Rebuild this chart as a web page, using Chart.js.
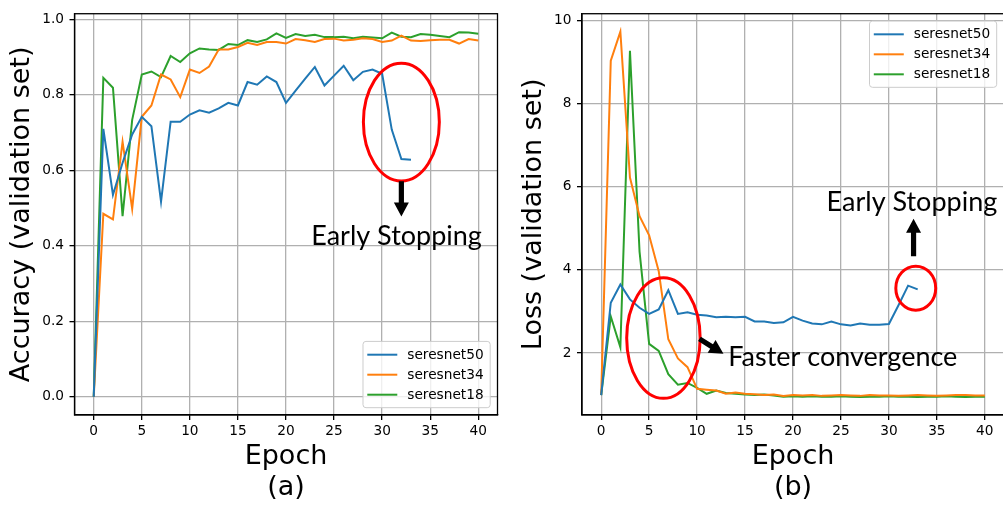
<!DOCTYPE html>
<html>
<head>
<meta charset="utf-8">
<script src="https://cdn.jsdelivr.net/npm/chart.js@4.4.1/dist/chart.umd.min.js"></script>
<style>
  html, body { margin: 0; padding: 0; background: #fff; overflow: hidden; }
  body { width: 1003px; height: 507px; position: relative; }
  canvas { position: absolute; top: 0; }
  #acc { left: 0; }
  #loss { left: 505px; }
</style>
</head>
<body>
<canvas id="acc" width="505" height="507"></canvas>
<canvas id="loss" width="499" height="507"></canvas>
<script>
// --- data ---
const epochs = [0,1,2,3,4,5,6,7,8,9,10,11,12,13,14,15,16,17,18,19,20,
                21,22,23,24,25,26,27,28,29,30,31,32,33,34,35,36,37,38,39,40];
const xTicks    = [0, 5, 10, 15, 20, 25, 30, 35, 40];
const accTicks  = [0.0, 0.2, 0.4, 0.6, 0.8, 1.0];
const lossTicks = [2, 4, 6, 8, 10];

const seriesNames  = ['seresnet50', 'seresnet34', 'seresnet18'];
const seriesColors = ['#1f77b4', '#ff7f0e', '#2ca02c'];

// accuracy (validation set) -- seresnet50 stops at epoch 33
const acc50 = [0, 0.710, 0.535, 0.620, 0.695, 0.742, 0.717, 0.517, 0.729, 0.729, 0.748,
               0.759, 0.753, 0.764, 0.779, 0.772, 0.834, 0.827, 0.849, 0.834, 0.779,
               0.811, 0.843, 0.874, 0.825, 0.851, 0.877, 0.839, 0.861, 0.867, 0.856,
               0.708, 0.630, 0.628];
const acc34 = [0, 0.485, 0.470, 0.676, 0.498, 0.742, 0.772, 0.854, 0.841, 0.794, 0.867,
               0.858, 0.875, 0.920, 0.920, 0.927, 0.938, 0.932, 0.940, 0.940, 0.936,
               0.948, 0.945, 0.940, 0.948, 0.949, 0.944, 0.946, 0.950, 0.948, 0.940,
               0.944, 0.957, 0.944, 0.943, 0.945, 0.946, 0.946, 0.936, 0.948, 0.944];
const acc18 = [0, 0.845, 0.819, 0.479, 0.734, 0.854, 0.862, 0.847, 0.903, 0.887, 0.910,
               0.923, 0.920, 0.919, 0.935, 0.932, 0.945, 0.940, 0.947, 0.963, 0.951,
               0.961, 0.956, 0.959, 0.953, 0.953, 0.954, 0.950, 0.954, 0.952, 0.950,
               0.965, 0.954, 0.953, 0.961, 0.959, 0.956, 0.953, 0.966, 0.965, 0.962];

// loss (validation set)
const loss50 = [0.99, 3.21, 3.65, 3.29, 3.09, 2.94, 3.05, 3.51, 2.94, 2.98, 2.92,
                2.90, 2.86, 2.87, 2.86, 2.87, 2.76, 2.76, 2.72, 2.74, 2.87,
                2.78, 2.71, 2.69, 2.76, 2.69, 2.66, 2.71, 2.68, 2.68, 2.70,
                3.15, 3.62, 3.53];
const loss34 = [0.99, 9.03, 9.73, 6.22, 5.29, 4.83, 3.97, 2.33, 1.87, 1.66, 1.14,
                1.12, 1.10, 1.02, 1.05, 1.02, 1.01, 0.99, 1.00, 0.97, 0.99,
                0.98, 0.99, 0.97, 0.98, 0.99, 0.98, 0.97, 0.99, 0.98, 0.98,
                0.97, 0.98, 0.99, 0.98, 0.97, 0.98, 0.99, 0.99, 0.98, 0.98];
const loss18 = [0.99, 2.88, 2.14, 9.27, 4.44, 2.22, 2.05, 1.49, 1.24, 1.28, 1.16,
                1.02, 1.10, 1.04, 1.02, 1.00, 0.99, 1.00, 0.98, 0.95, 0.96,
                0.95, 0.96, 0.95, 0.95, 0.96, 0.95, 0.94, 0.95, 0.95, 0.96,
                0.95, 0.95, 0.94, 0.95, 0.95, 0.96, 0.95, 0.94, 0.95, 0.95];

Chart.defaults.font.family = "'DejaVu Sans', sans-serif";
Chart.defaults.color = '#000';

// -------------------------------
// frame, legend box and the red notes
// -------------------------------
function drawArrow(ctx, x1, y1, x2, y2) {
    const ang = Math.atan2(y2 - y1, x2 - x1);
    const len = Math.hypot(x2 - x1, y2 - y1);
    const hl = 14, hw = 7.5, sw = 2.6;
    ctx.save();
    ctx.translate(x1, y1);
    ctx.rotate(ang);
    ctx.beginPath();
    ctx.moveTo(0, -sw);
    ctx.lineTo(len - hl, -sw);
    ctx.lineTo(len - hl, -hw);
    ctx.lineTo(len, 0);
    ctx.lineTo(len - hl, hw);
    ctx.lineTo(len - hl, sw);
    ctx.lineTo(0, sw);
    ctx.closePath();
    ctx.fillStyle = '#000';
    ctx.fill();
    ctx.restore();
}

const notesPlugin = {
    id: 'notes',
    afterDatasetsDraw(chart, args, opts) {
        const { ctx, chartArea: a, scales: { x, y } } = chart;
        ctx.save();

        // box round the plot
        ctx.strokeStyle = '#000';
        ctx.lineWidth = 1.3;
        ctx.strokeRect(a.left, a.top, a.right - a.left, a.bottom - a.top);

        // ellipses (centre + radii in data units)
        ctx.strokeStyle = '#ff0000';
        ctx.lineWidth = 3;
        (opts.ellipses || []).forEach(e => {
            const cx = x.getPixelForValue(e.x), cy = y.getPixelForValue(e.y);
            const rx = Math.abs(x.getPixelForValue(e.x + e.rx) - cx);
            const ry = Math.abs(y.getPixelForValue(e.y + e.ry) - cy);
            ctx.beginPath();
            ctx.ellipse(cx, cy, rx, ry, 0, 0, 2 * Math.PI);
            ctx.stroke();
        });

        (opts.arrows || []).forEach(r => {
            drawArrow(ctx, x.getPixelForValue(r.x1), y.getPixelForValue(r.y1),
                           x.getPixelForValue(r.x2), y.getPixelForValue(r.y2));
        });

        ctx.fillStyle = '#000';
        ctx.textBaseline = 'alphabetic';
        (opts.texts || []).forEach(t => {
            ctx.font = "27px Lato, 'Open Sans', sans-serif";
            ctx.textAlign = t.align;
            ctx.fillText(t.text, x.getPixelForValue(t.x), y.getPixelForValue(t.y));
        });

        // legend
        const sets = chart.data.datasets;
        ctx.font = "13.7px 'DejaVu Sans', sans-serif";
        const textW = Math.max(...sets.map(d => ctx.measureText(d.label).width));
        const w = 4.3 + 30 + 10 + textW + 6.6, h = 66.3;
        const bx = a.right - 7.3 - w;
        const by = opts.legendAt === 'top' ? a.top + 7.3 : a.bottom - 7.3 - h;
        ctx.beginPath();
        ctx.roundRect(bx, by, w, h, 3);
        ctx.fillStyle = 'rgba(255,255,255,0.8)';
        ctx.fill();
        ctx.strokeStyle = '#cccccc';
        ctx.lineWidth = 1;
        ctx.stroke();
        ctx.textAlign = 'left';
        ctx.textBaseline = 'middle';
        sets.forEach((d, i) => {
            const ly = by + 13.3 + i * 20;
            ctx.strokeStyle = d.borderColor;
            ctx.lineWidth = 2;
            ctx.beginPath();
            ctx.moveTo(bx + 4.3, ly);
            ctx.lineTo(bx + 34.3, ly);
            ctx.stroke();
            ctx.fillStyle = '#000';
            ctx.fillText(d.label, bx + 44.3, ly + 0.5);
        });
        ctx.restore();
    }
};

function makeChart(id, cfg) {
    const datasets = cfg.series.map((vals, i) => ({
        label: seriesNames[i],
        data: vals.map((v, k) => ({ x: epochs[k], y: v })),
        borderColor: seriesColors[i],
        borderWidth: 2,
        pointRadius: 0,
        tension: 0,
        fill: false
    }));
    const grid = { color: '#b0b0b0', lineWidth: 1.3, tickLength: 5, tickColor: '#000', tickWidth: 1.3 };
    const border = { color: '#000', width: 1.3 };
    return new Chart(document.getElementById(id), {
        type: 'line',
        data: { datasets },
        options: {
            responsive: false,
            animation: false,
            devicePixelRatio: 1,
            layout: { padding: { top: 2, right: cfg.padRight, bottom: 0, left: 0 } },
            plugins: {
                legend: { display: false },
                tooltip: { enabled: false },
                notes: cfg.notes
            },
            scales: {
                x: {
                    type: 'linear', min: -2, max: 42,
                    afterBuildTicks: s => { s.ticks = xTicks.map(v => ({ value: v })); },
                    afterFit: s => { s.height = 92; },
                    grid, border,
                    ticks: { font: { size: 13.7 }, padding: 3, maxRotation: 0, autoSkip: false },
                    title: { display: true, text: ['Epoch', cfg.tag],
                             font: { size: 27, lineHeight: 1.15 }, padding: { top: 0, bottom: 3.5 } }
                },
                y: {
                    min: cfg.yMin, max: cfg.yMax,
                    afterBuildTicks: s => { s.ticks = cfg.yTicks.map(v => ({ value: v })); },
                    afterFit: s => { s.width = cfg.yWidth; },
                    grid, border,
                    ticks: { font: { size: 13.7 }, padding: 5.5, autoSkip: false, callback: cfg.yFmt },
                    title: { display: true, text: cfg.yTitle,
                             font: { size: 27, lineHeight: 1.15 }, padding: { top: cfg.yTitlePad, bottom: 0 } }
                }
            }
        },
        plugins: [notesPlugin]
    });
}

// (a) accuracy
makeChart('acc', {
    series: [acc50, acc34, acc18],
    tag: '(a)',
    yTitle: 'Accuracy (validation set)',
    yMin: -0.048, yMax: 1.015, yTicks: accTicks,
    yFmt: v => v.toFixed(1),
    yWidth: 74.5, yTitlePad: 6.7, padRight: 7.5,
    notes: {
        legendAt: 'bottom',
        ellipses: [{ x: 32.0, y: 0.728, rx: 3.95, ry: 0.156 }],
        arrows: [{ x1: 32.0, y1: 0.571, x2: 32.0, y2: 0.478 }],
        texts: [{ text: 'Early Stopping', x: 31.5, y: 0.402, align: 'center' }]
    }
});

// (b) loss
makeChart('loss', {
    series: [loss50, loss34, loss18],
    tag: '(b)',
    yTitle: 'Loss (validation set)',
    yMin: 0.51, yMax: 10.16, yTicks: lossTicks,
    yFmt: v => String(v),
    yWidth: 77, yTitlePad: 13.4, padRight: 0,
    notes: {
        legendAt: 'top',
        ellipses: [{ x: 6.49, y: 2.36, rx: 3.83, ry: 1.45 },
                   { x: 32.8, y: 3.56, rx: 2.08, ry: 0.53 }],
        arrows: [{ x1: 10.25, y1: 2.34, x2: 12.75, y2: 1.98 },
                 { x1: 32.57, y1: 4.33, x2: 32.57, y2: 5.23 }],
        texts: [{ text: 'Faster convergence', x: 13.24, y: 1.68, align: 'left' },
                { text: 'Early Stopping', x: 32.4, y: 5.42, align: 'center' }]
    }
});
</script>
</body>
</html>
